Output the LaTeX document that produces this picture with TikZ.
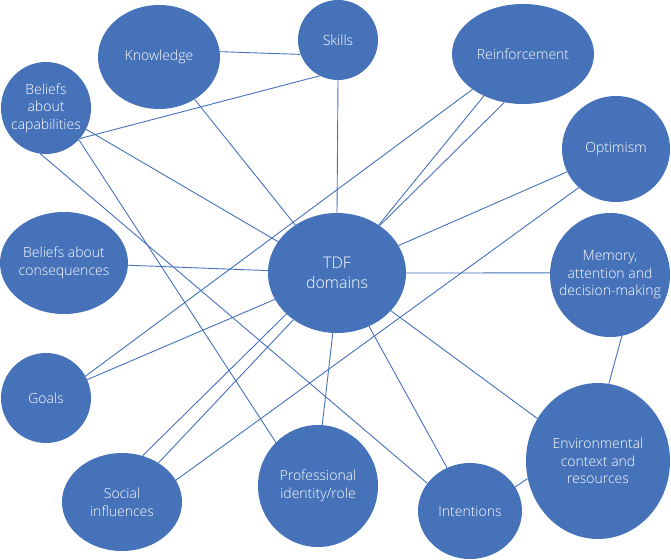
\documentclass[tikz,border=0pt]{standalone}
\usepackage{fontspec}
\setmainfont{Open Sans}[UprightFont={* Light}]
\usetikzlibrary{shapes.geometric}
\definecolor{tdfblue}{RGB}{70,114,186}
\tikzset{
  bub/.style={ellipse, fill=tdfblue, draw=none, inner sep=0pt, minimum width=#1},
  txt/.style={text=white, align=center, inner sep=0pt, font=\fontsize{14}{17.5}\selectfont},
  bigtxt/.style={txt, font=\fontsize{16}{20}\selectfont},
  conn/.style={draw=tdfblue, line width=0.9pt}
}
\begin{document}
\begin{tikzpicture}[x=1pt,y=-1pt]
\useasboundingbox (0,0) rectangle (671,559);
% bubbles
\node[bub=122pt, minimum height=104pt] (K) at (159,57) {};
\node[bub=80pt, minimum height=80pt] (S) at (338,40) {};
\node[bub=142pt, minimum height=100pt] (R) at (523,54) {};
\node[bub=90pt, minimum height=92pt] (BaC) at (46,108) {};
\node[bub=108pt, minimum height=106pt] (O) at (616,149) {};
\node[bub=120pt, minimum height=124pt] (M) at (610,275) {};
\node[bub=138pt, minimum height=120pt] (T) at (337,273) {};
\node[bub=128pt, minimum height=102pt] (BoC) at (64,263) {};
\node[bub=90pt, minimum height=90pt] (G) at (46,398) {};
\node[bub=120pt, minimum height=98pt] (SI) at (122,502) {};
\node[bub=120pt, minimum height=122pt] (PI) at (318,486) {};
\node[bub=104pt, minimum height=96pt] (I) at (470,511) {};
\node[bub=144pt, minimum height=156pt] (E) at (598,461) {};
% texts
\node[txt] (Kt) at (K) {Knowledge};
\node[txt] (St) at (S) {Skills};
\node[txt] (Rt) at (R) {Reinforcement};
\node[txt] (BaCt) at (BaC) {Beliefs\\about\\capabilities};
\node[txt] (Ot) at (O) {Optimism};
\node[txt] (Mt) at (M) {Memory,\\attention and\\decision-making};
\node[bigtxt] (Tt) at (T) {TDF\\domains};
\node[txt] (BoCt) at (BoC) {Beliefs about\\consequences};
\node[txt] (Gt) at (G) {Goals};
\node[txt] (SIt) at (SI) {Social\\influences};
\node[txt] (PIt) at (PI) {Professional\\identity/role};
\node[txt] (It) at (I) {Intentions};
\node[txt] (Et) at (E) {Environmental\\context and\\resources};
% connectors
\draw[conn] (K.5) -- (S.201);
\draw[conn] (K.-50) -- (T.131);
\draw[conn] (S.-90) -- (T.90);
\draw[conn] (S.243) -- (BaC.-42);
\draw[conn] (BaC.-28) -- (T.152);
\draw[conn] (BaC.-97) -- (I.147);
\draw[conn] (BaC.-44) -- (PI.134);
\draw[conn] (BoC.-2) -- (T.178);
\draw[conn] (G.24) -- (T.203);
\draw[conn] (G.29) -- (R.215);
\draw[conn] (R.227) -- (T.49);
\draw[conn] (R.249) -- (T.48);
\draw[conn] (O.205) -- (T.24);
\draw[conn] (O.226) -- (SI.22);
\draw[conn] (T.0) -- (M.178);
\draw[conn] (T.219) -- (SI.66);
\draw[conn] (T.227) -- (SI.47);
\draw[conn] (T.-94) -- (PI.86);
\draw[conn] (T.-59) -- (I.118);
\draw[conn] (T.-35) -- (E.145);
\draw[conn] (M.-79) -- (E.82);
\draw[conn] (I.28) -- (E.194);
\end{tikzpicture}
\end{document}
